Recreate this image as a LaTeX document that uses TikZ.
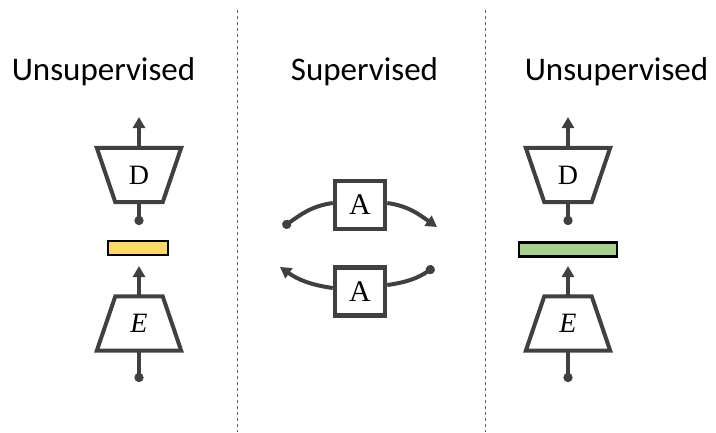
\documentclass[tikz,border=0pt]{standalone}
\usepackage{fontspec}
\setmainfont{Liberation Serif}
\newfontfamily\headfont{Carlito}
\usetikzlibrary{arrows.meta}
\definecolor{ink}{HTML}{404040}
\definecolor{ybar}{HTML}{FFD966}
\definecolor{gbar}{HTML}{A9D18E}
\definecolor{sep}{HTML}{606060}
\begin{document}
\begin{tikzpicture}[x=1pt,y=1pt,
  head/.style={font=\headfont\fontsize{33}{36}\selectfont, anchor=base, inner sep=0},
  lbl/.style={font=\fontsize{28}{32}\selectfont, inner sep=0, minimum width=84, minimum height=54},
  trap/.style={draw=ink, line width=4pt, line join=miter},
  conn/.style={draw=ink, line width=4pt},
  arr/.style={conn, -{Triangle[length=11pt,width=12pt]}},
  dotend/.style={conn, -{Circle[length=9pt,width=9pt]}},
  abox/.style={draw=ink, line width=4.5pt, minimum width=50, minimum height=48, inner sep=0, font=\fontsize{30}{32}\selectfont},
  bar/.style={draw=black, line width=2.5pt, inner sep=0},
  sepline/.style={draw=sep, line width=1pt, dash pattern=on 3pt off 3pt}
]
\useasboundingbox (0,0) rectangle (716,-432);
% separators
\coordinate (s1a) at (237,-10); \coordinate (s1b) at (237,-432);
\coordinate (s2a) at (485,-10); \coordinate (s2b) at (485,-432);
\draw[sepline] (s1a) -- (s1b);
\draw[sepline] (s2a) -- (s2b);
% headings
\node[head] (h1) at (103.5,-80) {Unsupervised};
\node[head] (h2) at (364.5,-80) {Supervised};
\node[head] (h3) at (616.5,-80) {Unsupervised};
% left column
\node[lbl] (D1) at (139,-175) {D};
\draw[trap] (D1.north west) -- (D1.north east) -- ([xshift=-18.5pt]D1.south east) -- ([xshift=18.5pt]D1.south west) -- cycle;
\coordinate (D1t) at (139,-117);
\coordinate (D1b) at (139,-225);
\draw[arr] (D1.north) -- (D1t);
\draw[dotend] (D1.south) -- (D1b);
\node[bar, fill=ybar, minimum width=60, minimum height=14] (z1) at (138,-248) {};
\node[lbl] (E1) at (139,-323.5) {\textit{E}};
\draw[trap] ([xshift=18.5pt]E1.north west) -- ([xshift=-18.5pt]E1.north east) -- (E1.south east) -- (E1.south west) -- cycle;
\coordinate (E1t) at (139,-266);
\coordinate (E1b) at (139,-382);
\draw[arr] (E1.north) -- (E1t);
\draw[dotend] (E1.south) -- (E1b);
% right column
\node[lbl] (D2) at (568,-175) {D};
\draw[trap] (D2.north west) -- (D2.north east) -- ([xshift=-18.5pt]D2.south east) -- ([xshift=18.5pt]D2.south west) -- cycle;
\coordinate (D2t) at (568,-117);
\coordinate (D2b) at (568,-225);
\draw[arr] (D2.north) -- (D2t);
\draw[dotend] (D2.south) -- (D2b);
\node[bar, fill=gbar, minimum width=98, minimum height=14] (z2) at (568,-249.5) {};
\node[lbl] (E2) at (568,-323.5) {\textit{E}};
\draw[trap] ([xshift=18.5pt]E2.north west) -- ([xshift=-18.5pt]E2.north east) -- (E2.south east) -- (E2.south west) -- cycle;
\coordinate (E2t) at (568,-266);
\coordinate (E2b) at (568,-382);
\draw[arr] (E2.north) -- (E2t);
\draw[dotend] (E2.south) -- (E2b);
% middle
\node[abox] (A1) at (360,-205) {A};
\node[abox] (A2) at (360,-291.5) {A};
\coordinate (p1) at (283,-227);
\coordinate (q1) at (437,-227);
\coordinate (p2) at (434,-267);
\coordinate (q2) at (280,-267);
\draw[conn, {Circle[length=9pt,width=9pt]}-] (p1) to[out=35,in=188] ([yshift=2pt]A1.west);
\draw[arr] ([yshift=2pt]A1.east) to[out=-8,in=145] (q1);
\draw[conn, {Circle[length=9pt,width=9pt]}-] (p2) to[out=215,in=8] (A2.east |- 0,-285);
\draw[arr] (A2.west |- 0,-288) to[out=172,in=-35] (q2);
\end{tikzpicture}
\end{document}
